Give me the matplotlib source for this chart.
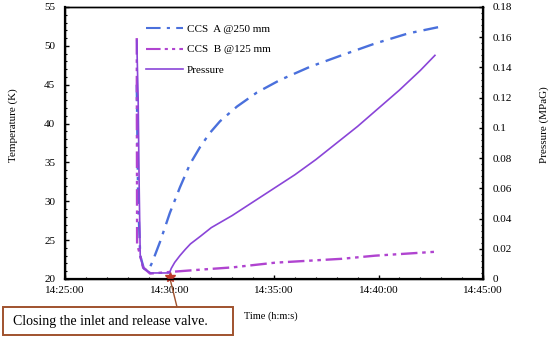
import matplotlib
matplotlib.use("Agg")
import matplotlib.pyplot as plt
import matplotlib.dates as mdates
import matplotlib.ticker as mticker
from matplotlib.lines import Line2D
from matplotlib.patches import Rectangle
import pandas as pd

plt.rcParams['font.family'] = ['Liberation Serif', 'DejaVu Serif']
plt.rcParams['font.size'] = 8

day = "2020-01-01 "

# CCS A @250 mm (K)
a_time = ["14:28:26", "14:28:30", "14:28:36", "14:28:46", "14:28:58", "14:29:10",
          "14:29:33", "14:30:01", "14:30:30", "14:30:59", "14:31:28", "14:31:56",
          "14:32:25", "14:33:14", "14:34:11", "14:35:17", "14:36:43", "14:38:15",
          "14:39:50", "14:41:25", "14:42:51"]
a_temp = [45.0, 30.0, 23.0, 21.4, 21.0, 22.1, 24.8, 28.5, 31.8, 34.8, 37.0, 38.8,
          40.3, 42.2, 44.0, 45.6, 47.3, 48.8, 50.3, 51.6, 52.4]

# CCS B @125 mm (K)
b_time = ["14:28:26", "14:28:27", "14:28:33", "14:28:44", "14:29:04", "14:30:00",
          "14:31:28", "14:33:02", "14:35:03", "14:38:15", "14:39:50", "14:42:42"]
b_temp = [51.0, 24.5, 23.5, 21.5, 20.7, 20.9, 21.2, 21.5, 22.1, 22.6, 23.0, 23.5]

# Pressure (MPaG)
p_time = ["14:28:26", "14:28:30", "14:28:33", "14:28:36", "14:28:45", "14:29:06",
          "14:30:00", "14:30:05", "14:30:15", "14:30:30", "14:30:45", "14:31:00",
          "14:31:30", "14:32:00", "14:33:00", "14:34:00", "14:35:00", "14:36:00",
          "14:37:00", "14:38:00", "14:39:00", "14:40:00", "14:41:00", "14:42:00",
          "14:42:42"]
p_val = [0.158, 0.12, 0.06, 0.015, 0.007, 0.004, 0.004, 0.007, 0.011, 0.0155,
         0.0195, 0.0232, 0.0285, 0.034, 0.042, 0.051, 0.060, 0.069, 0.079, 0.090,
         0.101, 0.113, 0.125, 0.138, 0.148]

valve_time = "14:30:00"

ta = pd.to_datetime([day + s for s in a_time])
tb = pd.to_datetime([day + s for s in b_time])
tp = pd.to_datetime([day + s for s in p_time])
tv = pd.to_datetime(day + valve_time)

c_a = "#4a70dc"
c_b = "#b044d0"
c_p = "#8a45d8"
c_box = "#a0522d"

fig = plt.figure(figsize=(5.5, 3.44), dpi=100)
ax = fig.add_axes([65 / 550, 1 - 279 / 344, 418 / 550, 272 / 344])
ax2 = ax.twinx()

ls_a = (0, (7, 3, 1.5, 3))
ls_b = (0, (7, 2, 1.5, 2, 1.5, 2))
ax.plot(ta, a_temp, color=c_a, lw=1.7, ls=ls_a)
ax.plot(tb, b_temp, color=c_b, lw=1.7, ls=ls_b)
ax2.plot(tp, p_val, color=c_p, lw=1.2)

ax.set_xlim(pd.to_datetime(day + "14:25:00"), pd.to_datetime(day + "14:45:00"))
ax.set_ylim(20, 55)
ax2.set_ylim(0, 0.18)

ax.xaxis.set_major_locator(mdates.MinuteLocator(byminute=range(0, 60, 5)))
ax.xaxis.set_minor_locator(mdates.MinuteLocator())
ax.xaxis.set_major_formatter(mdates.DateFormatter("%H:%M:%S"))
ax.yaxis.set_major_locator(mticker.MultipleLocator(5))
ax.yaxis.set_minor_locator(mticker.MultipleLocator(1))
ax2.yaxis.set_major_locator(mticker.MultipleLocator(0.02))
ax2.yaxis.set_minor_locator(mticker.MultipleLocator(0.004))
ax2.yaxis.set_major_formatter(mticker.FuncFormatter(lambda v, p: "%g" % round(v, 3)))

for a in (ax, ax2):
    a.tick_params(which="both", direction="in", top=False)
    a.tick_params(which="major", length=3, width=1)
    a.tick_params(which="minor", length=1.5, width=0.8)
    for s in a.spines.values():
        s.set_linewidth(1.0)
ax.spines["left"].set_linewidth(1.6)
ax.spines["bottom"].set_linewidth(1.6)
ax2.spines["right"].set_linewidth(1.6)
ax.tick_params(axis="x", which="major", pad=5)
ax.tick_params(axis="y", which="major", pad=7)
ax2.tick_params(axis="y", which="major", pad=7)

ax.set_ylabel("Temperature (K)")
ax.yaxis.set_label_coords(-0.113, 0.566)
ax2.set_ylabel("Pressure (MPaG)")
ax2.yaxis.set_label_coords(1.136, 0.566)
ax.set_xlabel("Time (h:m:s)", fontsize=7.5)
ax.xaxis.set_label_coords(0.493, -0.12)

handles = [Line2D([], [], color=c_a, lw=1.5, ls=ls_a),
           Line2D([], [], color=c_b, lw=1.5, ls=ls_b),
           Line2D([], [], color=c_p, lw=1.2)]
ax.legend(handles, ["CCS  A @250 mm", "CCS  B @125 mm", "Pressure"],
          loc="upper left", bbox_to_anchor=(0.17, 0.975), frameon=False,
          handlelength=3.3, handletextpad=0.4, labelspacing=1.0, fontsize=8)

# annotation box and pointer
fig.patches.append(Rectangle((3 / 550, 1 - 335 / 344), 230 / 550, 28 / 344,
                             transform=fig.transFigure, fc="white", ec=c_box, lw=1.4))
fig.text(13 / 550, 1 - 321 / 344, "Closing the inlet and release valve.",
         ha="left", va="center", fontsize=10)
ax.annotate("", xy=(tv, 20.3), xytext=(177 / 550, 1 - 307 / 344),
            textcoords="figure fraction", annotation_clip=False,
            arrowprops=dict(arrowstyle="-", color=c_box, lw=1.0, shrinkA=0, shrinkB=0))
ax.plot([tv], [20.3], marker="*", color="#c0392b", ms=7, clip_on=False, zorder=5)

fig.savefig("out.png", dpi=100)
